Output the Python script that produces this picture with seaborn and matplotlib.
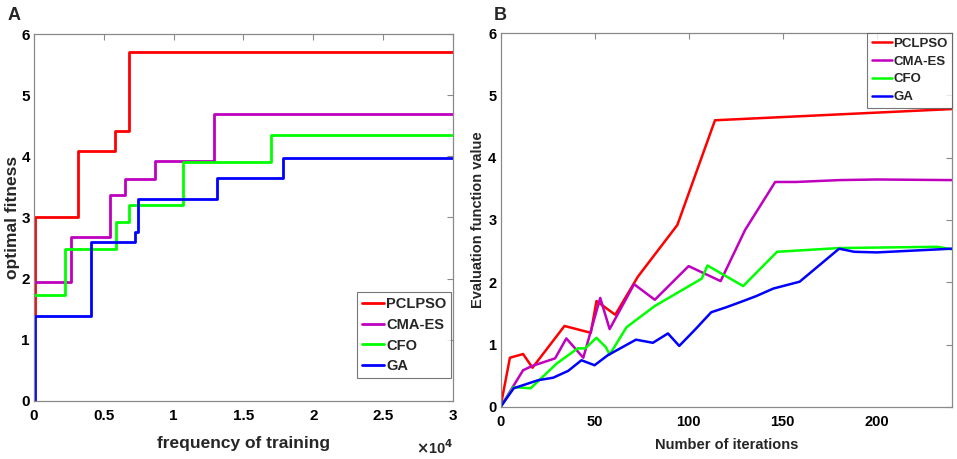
import numpy as np
import pandas as pd
import matplotlib
matplotlib.use("Agg")
import matplotlib.pyplot as plt
import seaborn as sns

# ---------------- Data ----------------
methods = ["PCLPSO", "CMA-ES", "CFO", "GA"]
colors = ["#ff0000", "#bf00bf", "#00ff00", "#0000ff"]

# Panel A (step curves: breakpoints and values, steps-post)
a_pclpso_x = [0, 60, 3140, 5830, 6790, 30000]
a_pclpso_y = [1.40, 3.00, 4.08, 4.42, 5.71, 5.71]
a_cmaes_x = [0, 2620, 5450, 6550, 8670, 12900, 30000]
a_cmaes_y = [1.95, 2.68, 3.37, 3.63, 3.93, 4.69, 4.69]
a_cfo_x = [0, 2240, 5900, 6790, 10690, 17000, 30000]
a_cfo_y = [1.73, 2.48, 2.92, 3.20, 3.91, 4.35, 4.35]
a_ga_x = [0, 60, 4100, 7240, 7430, 13140, 17800, 30000]
a_ga_y = [0.00, 1.39, 2.60, 2.77, 3.30, 3.64, 3.98, 3.98]

a_xticks = [0, 5000, 10000, 15000, 20000, 25000, 30000]
a_xticklabels = ["0", "0.5", "1", "1.5", "2", "2.5", "3"]
a_yticks = [0, 1, 2, 3, 4, 5, 6]

# Panel B (polylines)
b_pclpso_x = [0, 5, 12, 17, 34, 48, 51, 61, 73, 94, 114, 240]
b_pclpso_y = [0, 0.79, 0.85, 0.63, 1.30, 1.19, 1.70, 1.48, 2.09, 2.92, 4.60, 4.78]
b_cmaes_x = [0, 12, 17, 29, 35, 44, 53, 58, 71, 82, 100, 117, 130, 146, 157, 180, 200, 240]
b_cmaes_y = [0, 0.59, 0.66, 0.78, 1.10, 0.79, 1.75, 1.25, 1.97, 1.72, 2.26, 2.02, 2.84, 3.61, 3.61, 3.64, 3.65, 3.64]
b_cfo_x = [0, 7, 16, 30, 41, 45, 51, 56, 58, 67, 82, 107, 110, 129, 147, 180, 232, 240]
b_cfo_y = [0, 0.32, 0.30, 0.70, 0.94, 0.94, 1.11, 0.96, 0.84, 1.28, 1.62, 2.06, 2.27, 1.94, 2.49, 2.55, 2.57, 2.53]
b_ga_x = [0, 7, 20, 28, 36, 43, 50, 57, 72, 81, 89, 95, 104, 112, 120, 129, 136, 145, 159, 180, 188, 200, 240]
b_ga_y = [0, 0.30, 0.43, 0.47, 0.58, 0.75, 0.67, 0.83, 1.08, 1.03, 1.18, 0.98, 1.26, 1.52, 1.60, 1.70, 1.78, 1.90, 2.01, 2.54, 2.49, 2.48, 2.54]

b_xticks = [0, 50, 100, 150, 200]
b_yticks = [0, 1, 2, 3, 4, 5, 6]

# ---------------- Build frames ----------------
def frame(xs, ys):
    rows = []
    for m, x, y in zip(methods, xs, ys):
        for xi, yi in zip(x, y):
            rows.append((m, xi, yi))
    return pd.DataFrame(rows, columns=["method", "x", "y"])

dfA = frame([a_pclpso_x, a_cmaes_x, a_cfo_x, a_ga_x], [a_pclpso_y, a_cmaes_y, a_cfo_y, a_ga_y])
dfB = frame([b_pclpso_x, b_cmaes_x, b_cfo_x, b_ga_x], [b_pclpso_y, b_cmaes_y, b_cfo_y, b_ga_y])

# ---------------- Style ----------------
sns.set_style("white")
plt.rcParams["font.family"] = ["Liberation Sans", "DejaVu Sans"]
plt.rcParams["font.weight"] = "bold"
plt.rcParams["axes.labelweight"] = "bold"

fig = plt.figure(figsize=(9.57, 4.59), dpi=100)
axA = fig.add_axes([0.0355, 0.1264, 0.4378, 0.7995])
axB = fig.add_axes([0.523, 0.1133, 0.4718, 0.8148])

pal = dict(zip(methods, colors))

sns.lineplot(data=dfA, x="x", y="y", hue="method", hue_order=methods, palette=pal,
             estimator=None, sort=False, drawstyle="steps-post", linewidth=2.0, ax=axA)
sns.lineplot(data=dfB, x="x", y="y", hue="method", hue_order=methods, palette=pal,
             estimator=None, sort=False, linewidth=1.8, ax=axB)

for ax in (axA, axB):
    for s in ax.spines.values():
        s.set_visible(True)
        s.set_color("#8a8a8a")
        s.set_linewidth(0.9)
    ax.tick_params(direction="in", top=True, right=True, length=4, width=0.8,
                   color="#8a8a8a", labelcolor="black", labelsize=10.5)
    ax.tick_params(axis="x", pad=6)
    ax.tick_params(axis="y", pad=3)

# Panel A axes
axA.set_xlim(0, 30000)
axA.set_ylim(0, 6)
axA.set_xticks(a_xticks)
axA.set_xticklabels(a_xticklabels, fontweight="bold", fontsize=11)
axA.set_yticks(a_yticks)
axA.set_yticklabels([str(v) for v in a_yticks], fontweight="bold", fontsize=11)
axA.set_xlabel("frequency of training", fontsize=12.5, fontweight="bold", labelpad=9)
axA.set_ylabel("optimal fitness", fontsize=12.5, fontweight="bold", labelpad=1)
fig.text(453 / 957, 0.004, r"$\times$10$^{4}$", ha="right", va="bottom", fontsize=10.5)
legA = axA.legend(loc="lower right", bbox_to_anchor=(0.996, 0.062), borderaxespad=0,
                  frameon=True, fancybox=False,
                  handlelength=1.5, handletextpad=0.15, borderpad=0.35, labelspacing=0.45,
                  prop={"weight": "bold", "size": 10.5})
legA.get_frame().set_edgecolor("#555555")
legA.get_frame().set_linewidth(0.8)

# Panel B axes
axB.set_xlim(0, 240)
axB.set_ylim(0, 6)
axB.set_xticks(b_xticks)
axB.set_xticklabels([str(v) for v in b_xticks], fontweight="bold", fontsize=10.5)
axB.set_yticks(b_yticks)
axB.set_yticklabels([str(v) for v in b_yticks], fontweight="bold", fontsize=10.5)
axB.set_xlabel("Number of iterations", fontsize=10.5, fontweight="bold", labelpad=6)
axB.set_ylabel("Evaluation function value", fontsize=10.5, fontweight="bold", labelpad=2)
legB = axB.legend(loc="upper right", bbox_to_anchor=(1.0, 1.0), borderaxespad=0,
                  frameon=True, fancybox=False,
                  handlelength=1.5, handletextpad=0.1, borderpad=0.35, labelspacing=0.42,
                  prop={"weight": "bold", "size": 9.5})
legB.get_frame().set_edgecolor("#555555")
legB.get_frame().set_linewidth(0.8)

fig.text(0.008, 0.967, "A", fontsize=13, fontweight="bold", va="center")
fig.text(0.516, 0.967, "B", fontsize=13, fontweight="bold", va="center")

fig.savefig("out.png", dpi=100)
